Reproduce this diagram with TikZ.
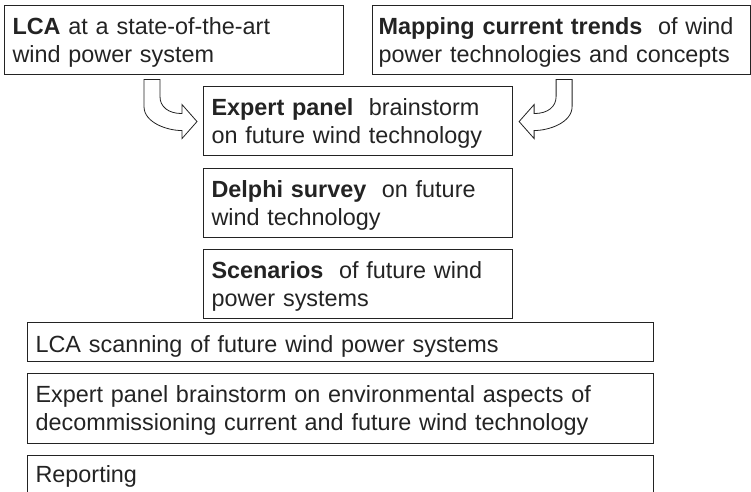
\documentclass[tikz,border=0pt]{standalone}
\usepackage{fontspec}
\setmainfont{Liberation Sans}
\usepackage{xcolor}
\definecolor{inkgrey}{RGB}{35,35,35}
\usetikzlibrary{positioning, calc}

\begin{document}
\begin{tikzpicture}[x=1pt, y=-1pt,
    stage/.style={draw=inkgrey, line width=1.1pt, text=inkgrey, align=left,
                  inner xsep=8pt, inner ysep=0pt, anchor=north west,
                  font=\fontsize{23.4}{28}\selectfont},
    twoline/.style={text height=28.5pt, text depth=40.5pt},
    oneline/.style={text height=30pt, text depth=9pt},
    bendarrow/.style={draw=inkgrey, line width=0.8pt, fill=white, line join=miter}]
  \useasboundingbox (0,0) rectangle (751,491);
  \clip (0,0) rectangle (751,491);

  % inputs
  \node[stage, twoline, text width=323pt] (lca) at (4,5) {%
    \textbf{LCA} at a state-of-the-art\\
    wind power system};
  \node[stage, twoline, inner xsep=6pt, text width=366pt] (trends) at (372,5) {%
    \textbf{Mapping current trends}\ \ of wind\\
    power technologies and concepts};

  % middle column
  \node[stage, twoline, text width=293pt] (expert) at (203,86) {%
    \textbf{Expert panel}\ \ brainstorm\\
    on future wind technology};
  \node[stage, twoline, text width=293pt, below=12pt of expert] (delphi) {%
    \textbf{Delphi survey}\ \ on future\\
    wind technology};
  \node[stage, twoline, text width=293pt, below=11pt of delphi] (scen) {%
    \textbf{Scenarios}\ \ of future wind\\
    power systems};

  % wide steps
  \node[stage, oneline, text width=610pt] (scan) at (27,322) {%
    LCA scanning of future wind power systems};
  \node[stage, text height=29pt, text depth=41pt, text width=610pt,
        below=11pt of scan.south west, anchor=north west] (decom) {%
    Expert panel brainstorm on environmental aspects of\\
    decommissioning current and future wind technology};
  \node[stage, text height=27pt, text depth=14pt, text width=610pt,
        below=11pt of decom.south west, anchor=north west] (report) {%
    Reporting};

  % bent arrows into the expert panel
  \coordinate (tipL) at ($(expert.west)+(-6,0.5)$);
  \coordinate (tipR) at ($(expert.east)+(6,0.5)$);
  \draw[bendarrow] (tipL) -- ++(-15,-17) -- ++(0,9)
    .. controls +(-14,0) and +(0,10) .. ++(-22,-17) -- ++(0,-17)
    -- ++(-16,0) -- ++(0,27)
    .. controls +(0,16) and +(-15,0) .. ++(38,24) -- ++(0,8) -- cycle;
  \draw[bendarrow] (tipR) -- ++(15,-17) -- ++(0,9)
    .. controls +(14,0) and +(0,10) .. ++(22,-17) -- ++(0,-17)
    -- ++(16,0) -- ++(0,27)
    .. controls +(0,16) and +(15,0) .. ++(-38,24) -- ++(0,8) -- cycle;
\end{tikzpicture}
\end{document}
